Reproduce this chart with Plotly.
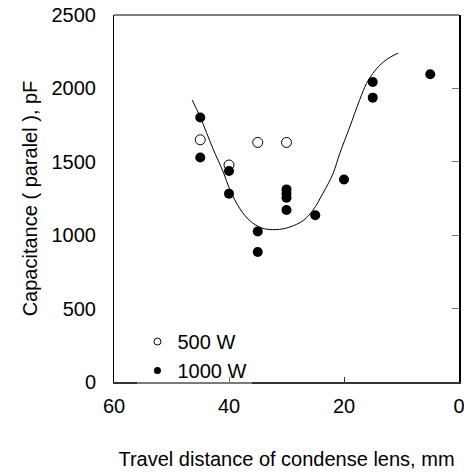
import plotly.graph_objects as go

# 500 W (open circles)
x_500 = [45, 40, 35, 30]
y_500 = [1650, 1478, 1632, 1632]

# 1000 W (filled circles)
x_1000 = [45, 45, 40, 40, 35, 35, 30, 30, 30, 30, 25, 20, 15, 15, 5]
y_1000 = [1802, 1529, 1437, 1283, 1026, 886, 1312, 1284, 1255, 1172, 1136, 1379, 2044, 1937, 2096]

# fitted curve
x_fit = [46.4, 45.0, 42.8, 41.0, 39.9, 38.1, 36.4, 34.4, 31.8, 29.4, 27.1, 25.4,
         23.7, 21.9, 20.75, 19.0, 17.3, 16.1, 15.0, 13.8, 12.35, 10.6]
y_fit = [1920, 1805, 1590, 1430, 1315, 1180, 1100, 1050, 1038, 1056, 1100, 1170,
         1283, 1420, 1556, 1737, 1919, 2033, 2101, 2157, 2203, 2241]

x_ticks = [60, 40, 20, 0]
y_ticks = [0, 500, 1000, 1500, 2000, 2500]

FONT = "Liberation Sans, Arial, sans-serif"

fig = go.Figure()
fig.add_trace(go.Scatter(x=x_fit, y=y_fit, mode="lines", line=dict(color="black", width=1, shape="spline"),
                         showlegend=False, hoverinfo="skip"))
fig.add_trace(go.Scatter(x=x_500, y=y_500, mode="markers", showlegend=False,
                         marker=dict(symbol="circle-open", size=10, color="black", line=dict(width=1))))
fig.add_trace(go.Scatter(x=x_1000, y=y_1000, mode="markers", showlegend=False,
                         marker=dict(symbol="circle", size=10, color="black")))
# legend entries
fig.add_trace(go.Scatter(x=[None], y=[None], mode="markers", name="500 W",
                         marker=dict(symbol="circle-open", size=7, color="black", line=dict(width=1))))
fig.add_trace(go.Scatter(x=[None], y=[None], mode="markers", name="1000 W",
                         marker=dict(symbol="circle", size=7, color="black")))

fig.update_layout(
    width=464, height=475,
    margin=dict(l=114, r=5, t=15, b=93),
    paper_bgcolor="white", plot_bgcolor="white",
    font=dict(family=FONT, size=20, color="black"),
    showlegend=True,
    legend=dict(x=0.068, y=-0.022, xanchor="left", yanchor="bottom",
                bgcolor="rgba(255,255,255,0.35)", borderwidth=0,
                font=dict(size=20), tracegroupgap=0, itemwidth=30),
    xaxis=dict(range=[60, 0], tickvals=x_ticks, ticks="inside", ticklen=5, tickcolor="#333",
               showline=True, linecolor="#333", linewidth=2, showgrid=False, zeroline=False,
               ticklabelstandoff=5, automargin=False, ticklabeloverflow="allow",
               title=dict(text="Travel distance of condense lens, mm", standoff=36,
                          font=dict(size=20))),
    yaxis=dict(range=[0, 2500], tickvals=y_ticks, ticks="", showline=True, linecolor="black",
               linewidth=1, showgrid=False, zeroline=False, ticklabelstandoff=13,
               automargin=False, ticklabeloverflow="allow",
               title=dict(text="Capacitance ( paralel ), pF", standoff=8, font=dict(size=20))),
    yaxis2=dict(range=[0, 2500], tickvals=y_ticks, overlaying="y", side="right", ticks="inside",
                ticklen=7, tickcolor="#777", showticklabels=False, showline=True, linecolor="black",
                linewidth=1.5, showgrid=False, zeroline=False, automargin=False),
    shapes=[dict(type="line", xref="paper", yref="paper", x0=0, x1=1, y0=1, y1=1,
                 line=dict(color="black", width=1))],
)
fig.add_trace(go.Scatter(x=[None], y=[None], yaxis="y2", showlegend=False, hoverinfo="skip"))

fig.write_html("out.html", config={"displayModeBar": False},
               post_script="document.body.style.margin='0px';")
